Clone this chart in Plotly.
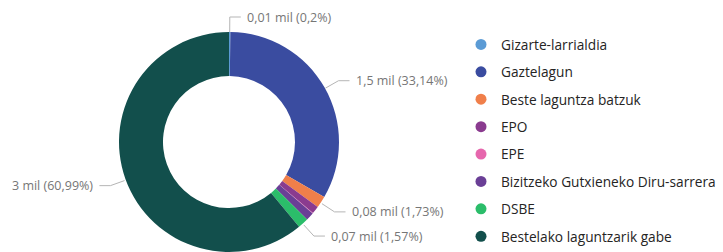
import math
import plotly.graph_objects as go

# ---- data ----
categories = ["Gizarte-larrialdia", "Gaztelagun", "Beste laguntza batzuk", "EPO", "EPE",
              "Bizitzeko Gutxieneko Diru-sarrera", "DSBE", "Bestelako laguntzarik gabe"]
values = [9.8, 1630.5, 85.1, 55.0, 3.0, 58.6, 77.2, 3000.7]
label_texts = ["0,01 mil (0,2%)", "1,5 mil (33,14%)", "0,08 mil (1,73%)", "", "", "",
               "0,07 mil (1,57%)", "3 mil (60,99%)"]
colors = ["#5b9bd5", "#3a4ca0", "#f07f4a", "#8a3b8f", "#e667ad", "#6a3f96", "#2bbd6a", "#124f4c"]

# ---- geometry ----
W, H = 723, 252
CX, CY, R = 229, 143, 111
EXT, HLEN, GAP = 15, 11, 4


def px(x):
    return x / W


def py(y):
    return 1 - y / H


fig = go.Figure()
fig.add_trace(go.Pie(
    labels=categories, values=values, marker=dict(colors=colors, line=dict(width=0)),
    hole=0.6, sort=False, direction="clockwise", rotation=0,
    textinfo="none", showlegend=False,
    domain=dict(x=[px(CX - R), px(CX + R)], y=[0, py(CY - R)]),
))

# legend entries as dummy traces so we can control spacing
for i, (c, col) in enumerate(zip(categories, colors)):
    fig.add_trace(go.Scatter(x=[None], y=[None], mode="markers", name=c,
                             legendgroup=f"g{i}",
                             marker=dict(color=col, size=11, symbol="circle")))

total = sum(values)
cum = 0.0
shapes, annotations = [], []
for v, t in zip(values, label_texts):
    mid = (cum + v / 2) / total * 2 * math.pi
    cum += v
    if not t:
        continue
    sx, sy = math.sin(mid), -math.cos(mid)
    x0, y0 = CX + R * sx, CY + R * sy
    x1, y1 = CX + (R + EXT) * sx, CY + (R + EXT) * sy
    side = 1 if sx >= 0 else -1
    x2 = x1 + side * HLEN
    shapes.append(dict(type="path", xref="paper", yref="paper",
                       path=f"M {px(x0)} {py(y0)} L {px(x1)} {py(y1)} L {px(x2)} {py(y1)}",
                       line=dict(color="#b5b5b5", width=1)))
    annotations.append(dict(xref="paper", yref="paper", x=px(x2 + side * GAP), y=py(y1),
                            text=t, showarrow=False,
                            xanchor="left" if side > 0 else "right", yanchor="middle",
                            font=dict(family="Open Sans", size=12.5, color="#767676")))

fig.update_layout(
    width=W, height=H, autosize=False,
    margin=dict(l=0, r=0, t=0, b=0),
    paper_bgcolor="white", plot_bgcolor="white",
    xaxis=dict(visible=False), yaxis=dict(visible=False),
    shapes=shapes, annotations=annotations,
    legend=dict(x=px(461), y=py(35.5), xanchor="left", yanchor="top",
                font=dict(family="Open Sans", size=13.7, color="#252423"),
                tracegroupgap=6.6, traceorder="grouped", itemclick=False, itemdoubleclick=False),
    showlegend=True,
)

fig.write_html("out.html", config={"displayModeBar": False},
               post_script="document.body.style.margin='0';document.body.style.overflow='hidden';")
